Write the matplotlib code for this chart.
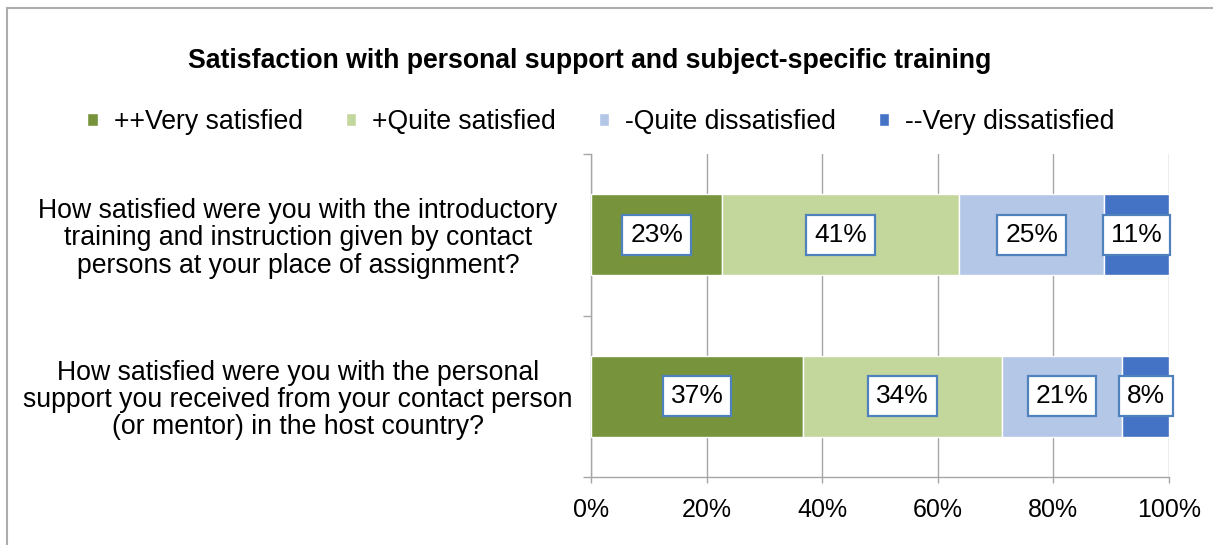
import matplotlib
matplotlib.use("Agg")
import matplotlib.pyplot as plt
from matplotlib.patches import Rectangle
import numpy as np

plt.rcParams['font.family'] = ['Liberation Sans', 'DejaVu Sans']

title = "Satisfaction with personal support and subject-specific training"
categories = [
    "How satisfied were you with the introductory\ntraining and instruction given by contact\npersons at your place of assignment?",
    "How satisfied were you with the personal\nsupport you received from your contact person\n(or mentor) in the host country?",
]
series_names = ["++Very satisfied", "+Quite satisfied", "-Quite dissatisfied", "--Very dissatisfied"]
very_satisfied = [22.7, 36.7]
quite_satisfied = [41.0, 34.4]
quite_dissatisfied = [25.1, 20.8]
very_dissatisfied = [11.2, 8.1]
xticks = [0, 20, 40, 60, 80, 100]
xtick_labels = ["0%", "20%", "40%", "60%", "80%", "100%"]

colors = ["#77933C", "#C3D69B", "#B4C7E7", "#4472C4"]
series = [very_satisfied, quite_satisfied, quite_dissatisfied, very_dissatisfied]

W, H = 1213, 545
fig = plt.figure(figsize=(W / 100, H / 100), dpi=100)
ax = fig.add_axes([591 / W, 1 - 477 / H, 578 / W, 323 / H])

y = np.arange(len(categories))
left = np.zeros(len(categories))
handles = []
for name, vals, c in zip(series_names, series, colors):
    vals = np.array(vals)
    bars = ax.barh(y, vals, left=left, height=0.5, color=c, edgecolor="white",
                   linewidth=1, label=name, zorder=3)
    handles.append(bars)
    for yi, (l, v) in enumerate(zip(left, vals)):
        ax.text(l + v / 2, yi, f"{v:.0f}%", ha="center", va="center", fontsize=19,
                color="black", zorder=5,
                bbox=dict(boxstyle="square,pad=0.3", facecolor="white",
                          edgecolor="#4F81BD", linewidth=1.6))
    left = left + vals

ax.set_xlim(0, 100)
ax.set_ylim(1.5, -0.5)
ax.set_xticks(xticks)
ax.set_xticklabels(xtick_labels, fontsize=18)
ax.set_yticks([-0.5, 0.5, 1.5])
ax.set_yticklabels([])
ax.set_yticks(y, minor=True)
ax.set_yticklabels(categories, minor=True, fontsize=19.2, ha="center",
                   multialignment="center", linespacing=1.06)
ax.tick_params(axis="y", which="minor", length=0, pad=211)
ax.tick_params(axis="y", which="major", length=6, color="#A6A6A6", width=1)
ax.tick_params(axis="x", length=4, color="#A6A6A6", width=1, pad=11)
ax.grid(axis="x", color="#A6A6A6", linewidth=1, zorder=0)
ax.set_axisbelow(True)
for s in ["top", "right"]:
    ax.spines[s].set_visible(False)
for s in ["left", "bottom"]:
    ax.spines[s].set_color("#A6A6A6")
    ax.spines[s].set_linewidth(1)

fig.text(590 / W, 1 - 61 / H, title, ha="center", va="center", fontsize=19.2,
         fontweight="bold")

leg = fig.legend(handles=handles, labels=series_names, loc="center",
                 bbox_to_anchor=(601 / W, 1 - 122 / H), ncol=4, frameon=False,
                 fontsize=19.2, handlelength=0.4, handleheight=0.4,
                 handletextpad=0.6, columnspacing=1.6)

fig.patches.append(Rectangle((6.5 / W, -0.1), 1.2, 1.1 - 7.5 / H, transform=fig.transFigure,
                             fill=False, edgecolor="#ADADAD", linewidth=1.5))

fig.savefig("out.png", dpi=100)
